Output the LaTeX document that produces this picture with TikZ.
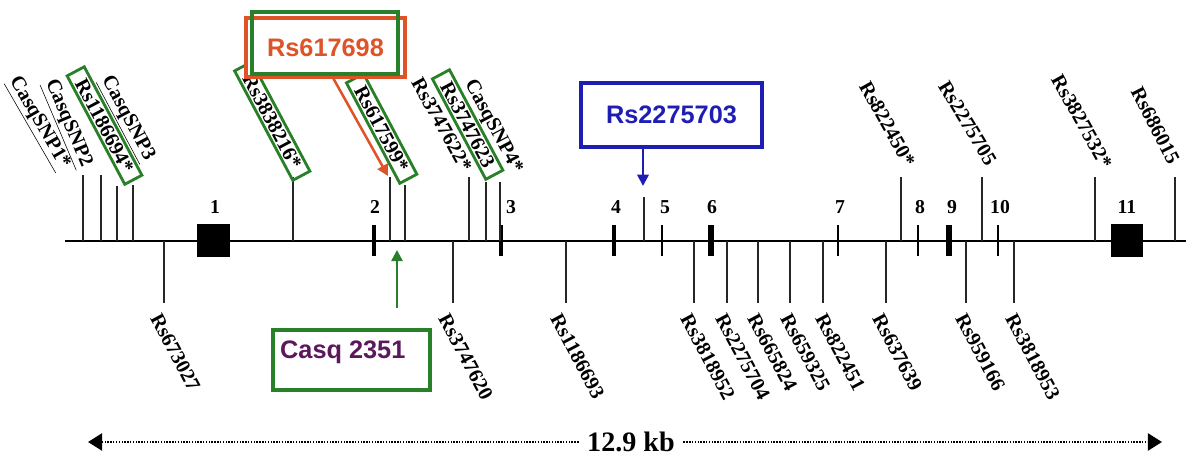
\documentclass[tikz,border=0pt]{standalone}
\usepackage{fontspec}
\setmainfont{Liberation Serif}
\newfontfamily\boxfont{Liberation Sans}
\usetikzlibrary{arrows.meta, positioning}

\definecolor{snpgreen}{RGB}{40,128,40}
\definecolor{snpred}{RGB}{222,84,40}
\definecolor{snpblue}{RGB}{30,30,180}
\definecolor{casqpurple}{RGB}{92,24,92}

\begin{document}
\begin{tikzpicture}[x=0.025cm, y=-0.025cm,
  snptick/.style={line width=0.8pt, black!85},
  snplab/.style={font=\bfseries\fontsize{14.5}{15}\selectfont, inner xsep=7pt, inner ysep=2pt},
  snpbox/.style={snplab, draw=snpgreen, line width=2pt},
  exnum/.style={font=\bfseries\fontsize{14}{14}\selectfont, inner sep=1pt},
  callout/.style={line width=2.5pt, font=\boxfont\bfseries\fontsize{18}{18}\selectfont},
  calloutarrow/.style={line width=1.8pt, -{Triangle[length=8pt,width=8pt]}},
  scalearrow/.style={line width=2pt, dash pattern=on 1pt off 1pt, -{Triangle[length=10pt,width=12pt]}}]
  % Background
  \useasboundingbox (0,0) rectangle (1186,459);
  \fill[white] (0,0) rectangle (1186,459);
  % Gene line
  \draw[line width=1pt] (65,241) -- (1186,241);
  % Exons
  \fill (197,224) rectangle (230,257);
  \fill (1111,224) rectangle (1143,257);
  \foreach \x/\w in {374/4, 501/4, 614/4.5, 662/2.5, 711/6.5, 838/1.5, 918/2, 949/6, 998/2}
    \fill (\x-\w/2,225) rectangle (\x+\w/2,256);
  \foreach \n/\x in {1/215, 2/375, 3/511, 4/616, 5/665, 6/712, 7/840, 8/920, 9/952, 10/1000, 11/1127}
    \node[exnum] (ex\n) at (\x,207) {\n};
  % SNPs above the line
  \foreach \x/\t in {83/175, 101/175, 117/186, 133/185, 293/177, 390/177, 405/185, 469/177, 486/182, 500/182, 644/197, 901/177, 982/177, 1095/177, 1175/177}
    \draw[snptick] (\x,241) -- (\x,\t);
  \foreach \i/\x/\y/\r/\txt in {1/69/177/-60/{\underline{CasqSNP1*}}, 2/89/176/-67/{\underline{CasqSNP2}}, 4/153/169/-62/{\underline{CasqSNP3}}, 7/472/179/-61/Rs3747622*, 9/522/181/-62/CasqSNP4*, 10/915/174/-61/Rs822450*, 11/997/172/-59/Rs2275705, 12/1112/176/-61/Rs3827532*, 13/1179/172/-63/Rs686015}
    \node[snplab, rotate=\r, anchor=east] (up-\i) at (\x,\y) {\txt};
  \foreach \i/\x/\y/\txt in {3/134/181/Rs1186694*, 5/302/177/Rs3838216*, 6/409/180/Rs617599*, 8/495/176/Rs3747623}
    \node[snpbox, rotate=-62, anchor=east] (up-\i) at (\x,\y) {\txt};
  % SNPs below the line
  \foreach \x/\lx/\txt in {164/151/Rs673027, 453/439/Rs3747620, 566/551/Rs1186693, 694/681/Rs3818952, 727/716/Rs2275704, 758/748/Rs665824, 790/781/Rs659325, 823/816/Rs822451, 886/873/Rs637639, 966/956/Rs959166, 1014/1006/Rs3818953}{
    \draw[snptick] (\x,241) -- (\x,303);
    \node[snplab, rotate=-62, anchor=west] (dn-\x) at (\lx,306) {\txt};
  }
  % Callout boxes
  \node[callout, draw=snpred, fill=white, text=snpred, minimum width=3.975cm, minimum height=1.475cm] (rs617698) at (325.5,47.5) {Rs617698};
  \draw[snpgreen, line width=3pt] (252,12) rectangle (398,74);
  \coordinate (rs617698tip) at (388,176);
  \draw[calloutarrow, snpred] ([xshift=0.2cm]rs617698.south) -- (rs617698tip);
  \node[callout, draw=snpblue, text=snpblue, minimum width=4.525cm, minimum height=1.6cm] (rs2275703) at (671.5,115) {Rs2275703};
  \coordinate (rs2275703tip) at (643,186);
  \draw[calloutarrow, snpblue] (rs2275703.south -| rs2275703tip) -- (rs2275703tip);
  \node[draw=snpgreen, line width=2.5pt, minimum width=3.925cm, minimum height=1.5cm] (casq) at (351.5,360) {};
  \node[callout, text=casqpurple, anchor=west, inner sep=1pt] (casqlab) at (277,352) {Casq 2351};
  \coordinate (casqtip) at (397,250);
  \draw[calloutarrow, snpgreen] ([yshift=0.5cm]casq.north -| casqtip) -- (casqtip);
  % Scale bar
  \node[font=\bfseries\fontsize{20}{20}\selectfont, inner xsep=6pt] (kb) at (631,442) {12.9 kb};
  \coordinate (kbleft) at (88,442);
  \coordinate (kbright) at (1162,442);
  \draw[scalearrow] (kb.west) -- (kbleft);
  \draw[scalearrow] (kb.east) -- (kbright);
\end{tikzpicture}
\end{document}
